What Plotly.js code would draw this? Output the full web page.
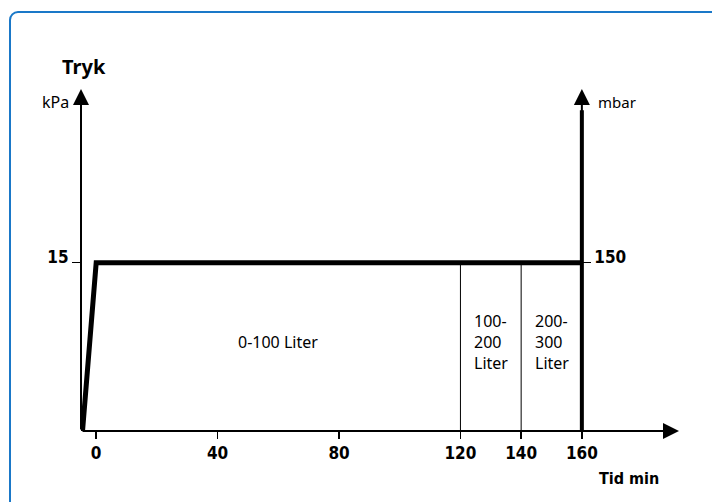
<!DOCTYPE html>
<html>
<head>
<meta charset="utf-8">
<script src="https://cdn.plot.ly/plotly-3.0.1.min.js"></script>
<style>
  html, body { margin: 0; padding: 0; background: #ffffff; }
  #frame { position: absolute; left: 9px; top: 11px; width: 760px; height: 560px;
           border: 2.5px solid #1a78c8; border-radius: 9px; }
  #chart { position: absolute; left: 0; top: 0; width: 712px; height: 502px; }
</style>
</head>
<body>
<div id="frame"></div>
<div id="chart"></div>
<script>
// ---- data ----
const timeMin = [-4.5, 0, 160];          // pressure profile, minutes
const pressureKPa = [0, 15, 15];         // kPa
const regionBounds = [0, 120, 140, 160]; // minutes
const regionLabels = ["0-100 Liter", "100-<br>200<br>Liter", "200-<br>300<br>Liter"];
const xTicks = [0, 40, 80, 120, 140, 160];
const kPaTicks = [15];
const mbarTicks = [150];
const xMin = -5, xMax = 192, yMax = 30.5;

const boldFont = "'DejaVu Sans Condensed', 'Noto Sans', sans-serif";
const regFont = "'Noto Sans', 'Open Sans', sans-serif";

const traces = [];
// pressure profile
traces.push({ x: timeMin, y: pressureKPa, mode: 'lines', line: { color: '#000', width: 5 }, hoverinfo: 'skip', showlegend: false });
// region divider lines (120, 140)
for (let i = 1; i < regionBounds.length - 1; i++) {
  traces.push({ x: [regionBounds[i], regionBounds[i]], y: [0, pressureKPa[1]], mode: 'lines',
    line: { color: '#000', width: 1 }, hoverinfo: 'skip', showlegend: false });
}
// right (mbar) axis line at end of time
const tEnd = regionBounds[regionBounds.length - 1];
traces.push({ x: [tEnd, tEnd], y: [0, 28.6], mode: 'lines', line: { color: '#000', width: 4 }, hoverinfo: 'skip', showlegend: false });
// dummy trace for yaxis2
traces.push({ x: [tEnd], y: [0], yaxis: 'y2', mode: 'markers', marker: { opacity: 0 }, hoverinfo: 'skip', showlegend: false });

const annotations = [];
// region labels
for (let i = 0; i < regionLabels.length; i++) {
  annotations.push({ x: (regionBounds[i] + regionBounds[i + 1]) / 2, y: pressureKPa[1] / 2, yshift: 5,
    text: regionLabels[i], showarrow: false, align: 'left', font: { family: regFont, size: 16, color: '#000' } });
}
// axis arrows
const arrow = { showarrow: true, arrowhead: 2, arrowsize: 1.6, arrowwidth: 2, arrowcolor: '#000', standoff: 0, text: '', axref: 'x', ayref: 'y', xref: 'x', yref: 'y' };
annotations.push(Object.assign({}, arrow, { x: xMin, y: yMax, ax: xMin, ay: 0 }));
annotations.push(Object.assign({}, arrow, { x: xMax, y: 0, ax: xMin, ay: 0 }));
annotations.push(Object.assign({}, arrow, { x: tEnd, y: yMax, ax: tEnd, ay: 27 }));
// axis unit labels
annotations.push({ x: xMin, y: 29.3, xanchor: 'right', xshift: -10, text: 'kPa', showarrow: false, font: { family: regFont, size: 16, color: '#000' } });
annotations.push({ x: tEnd, y: 29.3, xanchor: 'left', xshift: 14, text: 'mbar', showarrow: false, font: { family: regFont, size: 15, color: '#000' } });
annotations.push({ x: 186, y: 0, xanchor: 'right', yanchor: 'middle', yshift: -47, text: 'Tid min', showarrow: false, font: { family: boldFont, size: 16, color: '#000', weight: 'bold' } });

const tickFont = { family: boldFont, size: 17, color: '#000', weight: 'bold' };
const layout = {
  width: 712, height: 502,
  margin: { l: 81, r: 33, t: 89, b: 71 },
  paper_bgcolor: 'rgba(0,0,0,0)', plot_bgcolor: 'rgba(0,0,0,0)',
  title: { text: 'Tryk', xref: 'container', yref: 'container', x: 62 / 712, xanchor: 'left', y: 1 - 67 / 502, yanchor: 'middle',
    font: { family: regFont, size: 20, color: '#000', weight: 'bold' } },
  xaxis: { range: [xMin, xMax], showgrid: false, zeroline: false, showline: false,
    tickmode: 'array', tickvals: xTicks, ticktext: xTicks.map(String), ticks: 'outside', ticklen: 7, tickwidth: 1.5, tickcolor: '#000',
    tickfont: tickFont, fixedrange: true },
  yaxis: { range: [0, yMax], showgrid: false, zeroline: false, showline: false,
    tickmode: 'array', tickvals: kPaTicks, ticktext: kPaTicks.map(String), ticks: 'outside', ticklen: 8, tickwidth: 1, tickcolor: '#000',
    ticklabelshift: -6, tickfont: tickFont, fixedrange: true },
  yaxis2: { range: [0, yMax * 10], overlaying: 'y', side: 'right', anchor: 'free', position: (tEnd - xMin) / (xMax - xMin),
    showgrid: false, zeroline: false, showline: false,
    tickmode: 'array', tickvals: mbarTicks, ticktext: mbarTicks.map(String), ticks: 'outside', ticklen: 8, tickwidth: 1, tickcolor: '#000',
    ticklabelshift: -6, tickfont: tickFont, fixedrange: true },
  annotations: annotations,
  showlegend: false
};

Plotly.newPlot('chart', traces, layout, { staticPlot: true, displayModeBar: false });
</script>
</body>
</html>
